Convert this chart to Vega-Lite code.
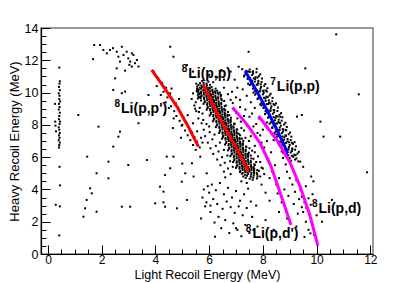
{
"$schema": "https://vega.github.io/schema/vega-lite/v6.json",
"width": 332, "height": 226,
"autosize": {"type": "none"},
"padding": {"left": 41, "top": 28, "right": 42, "bottom": 29},
"background": "white",
"config": {"view": {"stroke": "#7a7a7a", "strokeWidth": 1.5}, "font": "Liberation Sans"},
"datasets": {
"pts": [
{"x":7.36,"y":4.72},{"x":7.51,"y":4.66},{"x":7.64,"y":4.73},{"x":7.78,"y":4.68},
{"x":7.27,"y":4.80},{"x":7.41,"y":4.85},{"x":7.55,"y":4.79},{"x":7.66,"y":4.86},{"x":7.80,"y":4.81},
{"x":7.22,"y":4.97},{"x":7.33,"y":4.91},{"x":7.45,"y":4.96},{"x":7.56,"y":4.92},{"x":7.67,"y":4.98},{"x":7.79,"y":4.93},
{"x":7.15,"y":5.08},{"x":7.25,"y":5.02},{"x":7.34,"y":5.09},{"x":7.42,"y":5.05},{"x":7.50,"y":5.10},{"x":7.58,"y":5.04},{"x":7.67,"y":5.07},{"x":7.77,"y":5.03},
{"x":7.16,"y":5.15},{"x":7.25,"y":5.20},{"x":7.34,"y":5.13},{"x":7.42,"y":5.22},{"x":7.50,"y":5.17},{"x":7.58,"y":5.21},{"x":7.67,"y":5.14},{"x":7.79,"y":5.20},
{"x":7.00,"y":5.34},{"x":7.13,"y":5.29},{"x":7.23,"y":5.32},{"x":7.32,"y":5.27},{"x":7.40,"y":5.31},{"x":7.48,"y":5.26},{"x":7.57,"y":5.33},{"x":7.66,"y":5.30},
{"x":7.03,"y":5.44},{"x":7.13,"y":5.38},{"x":7.22,"y":5.45},{"x":7.30,"y":5.41},{"x":7.38,"y":5.46},{"x":7.46,"y":5.40},{"x":7.55,"y":5.43},{"x":7.65,"y":5.39},
{"x":7.05,"y":5.51},{"x":7.14,"y":5.56},{"x":7.23,"y":5.49},{"x":7.31,"y":5.58},{"x":7.39,"y":5.53},{"x":7.47,"y":5.57},{"x":7.56,"y":5.50},{"x":7.68,"y":5.56},
{"x":6.89,"y":5.70},{"x":7.02,"y":5.65},{"x":7.12,"y":5.68},{"x":7.21,"y":5.63},{"x":7.29,"y":5.67},{"x":7.37,"y":5.62},{"x":7.46,"y":5.69},{"x":7.55,"y":5.66},
{"x":6.93,"y":5.80},{"x":7.03,"y":5.74},{"x":7.12,"y":5.81},{"x":7.20,"y":5.77},{"x":7.28,"y":5.82},{"x":7.36,"y":5.76},{"x":7.45,"y":5.79},{"x":7.55,"y":5.75},
{"x":6.94,"y":5.87},{"x":7.03,"y":5.92},{"x":7.12,"y":5.85},{"x":7.20,"y":5.94},{"x":7.28,"y":5.89},{"x":7.36,"y":5.93},{"x":7.45,"y":5.86},{"x":7.57,"y":5.92},
{"x":6.79,"y":6.06},{"x":6.92,"y":6.01},{"x":7.02,"y":6.04},{"x":7.11,"y":5.99},{"x":7.19,"y":6.03},{"x":7.27,"y":5.98},{"x":7.36,"y":6.05},{"x":7.45,"y":6.02},
{"x":6.83,"y":6.16},{"x":6.93,"y":6.10},{"x":7.02,"y":6.17},{"x":7.10,"y":6.13},{"x":7.18,"y":6.18},{"x":7.26,"y":6.12},{"x":7.35,"y":6.15},{"x":7.45,"y":6.11},
{"x":6.85,"y":6.23},{"x":6.94,"y":6.28},{"x":7.03,"y":6.21},{"x":7.11,"y":6.30},{"x":7.19,"y":6.25},{"x":7.27,"y":6.29},{"x":7.36,"y":6.22},{"x":7.48,"y":6.28},
{"x":6.70,"y":6.42},{"x":6.83,"y":6.37},{"x":6.93,"y":6.40},{"x":7.02,"y":6.35},{"x":7.10,"y":6.39},{"x":7.18,"y":6.34},{"x":7.27,"y":6.41},{"x":7.36,"y":6.38},
{"x":6.74,"y":6.52},{"x":6.84,"y":6.46},{"x":6.93,"y":6.53},{"x":7.01,"y":6.49},{"x":7.09,"y":6.54},{"x":7.17,"y":6.48},{"x":7.26,"y":6.51},{"x":7.36,"y":6.47},
{"x":6.75,"y":6.59},{"x":6.84,"y":6.64},{"x":6.93,"y":6.57},{"x":7.01,"y":6.66},{"x":7.09,"y":6.61},{"x":7.17,"y":6.65},{"x":7.26,"y":6.58},{"x":7.38,"y":6.64},
{"x":6.59,"y":6.78},{"x":6.72,"y":6.73},{"x":6.82,"y":6.76},{"x":6.91,"y":6.71},{"x":6.99,"y":6.75},{"x":7.07,"y":6.70},{"x":7.16,"y":6.77},{"x":7.25,"y":6.74},
{"x":6.63,"y":6.88},{"x":6.73,"y":6.82},{"x":6.82,"y":6.89},{"x":6.90,"y":6.85},{"x":6.98,"y":6.90},{"x":7.06,"y":6.84},{"x":7.15,"y":6.87},{"x":7.25,"y":6.83},
{"x":6.64,"y":6.95},{"x":6.73,"y":7.00},{"x":6.82,"y":6.93},{"x":6.90,"y":7.02},{"x":6.98,"y":6.97},{"x":7.06,"y":7.01},{"x":7.15,"y":6.94},{"x":7.27,"y":7.00},
{"x":6.48,"y":7.14},{"x":6.61,"y":7.09},{"x":6.71,"y":7.12},{"x":6.80,"y":7.07},{"x":6.88,"y":7.11},{"x":6.96,"y":7.06},{"x":7.05,"y":7.13},{"x":7.14,"y":7.10},
{"x":6.51,"y":7.24},{"x":6.61,"y":7.18},{"x":6.70,"y":7.25},{"x":6.78,"y":7.21},{"x":6.86,"y":7.26},{"x":6.94,"y":7.20},{"x":7.03,"y":7.23},{"x":7.13,"y":7.19},
{"x":6.52,"y":7.31},{"x":6.61,"y":7.36},{"x":6.70,"y":7.29},{"x":6.78,"y":7.38},{"x":6.86,"y":7.33},{"x":6.94,"y":7.37},{"x":7.03,"y":7.30},{"x":7.15,"y":7.36},
{"x":6.37,"y":7.50},{"x":6.50,"y":7.45},{"x":6.60,"y":7.48},{"x":6.69,"y":7.43},{"x":6.77,"y":7.47},{"x":6.85,"y":7.42},{"x":6.94,"y":7.49},{"x":7.03,"y":7.46},
{"x":6.40,"y":7.60},{"x":6.50,"y":7.54},{"x":6.59,"y":7.61},{"x":6.67,"y":7.57},{"x":6.75,"y":7.62},{"x":6.83,"y":7.56},{"x":6.92,"y":7.59},{"x":7.02,"y":7.55},
{"x":6.41,"y":7.67},{"x":6.50,"y":7.72},{"x":6.59,"y":7.65},{"x":6.67,"y":7.74},{"x":6.75,"y":7.69},{"x":6.83,"y":7.73},{"x":6.92,"y":7.66},{"x":7.04,"y":7.72},
{"x":6.25,"y":7.86},{"x":6.38,"y":7.81},{"x":6.48,"y":7.84},{"x":6.57,"y":7.79},{"x":6.65,"y":7.83},{"x":6.73,"y":7.78},{"x":6.82,"y":7.85},{"x":6.91,"y":7.82},
{"x":6.28,"y":7.96},{"x":6.38,"y":7.90},{"x":6.47,"y":7.97},{"x":6.55,"y":7.93},{"x":6.63,"y":7.98},{"x":6.71,"y":7.92},{"x":6.80,"y":7.95},{"x":6.90,"y":7.91},
{"x":6.30,"y":8.03},{"x":6.39,"y":8.08},{"x":6.48,"y":8.01},{"x":6.56,"y":8.10},{"x":6.64,"y":8.05},{"x":6.72,"y":8.09},{"x":6.81,"y":8.02},{"x":6.93,"y":8.08},
{"x":6.14,"y":8.22},{"x":6.27,"y":8.17},{"x":6.37,"y":8.20},{"x":6.46,"y":8.15},{"x":6.54,"y":8.19},{"x":6.62,"y":8.14},{"x":6.71,"y":8.21},{"x":6.80,"y":8.18},
{"x":6.17,"y":8.32},{"x":6.27,"y":8.26},{"x":6.36,"y":8.33},{"x":6.44,"y":8.29},{"x":6.52,"y":8.34},{"x":6.60,"y":8.28},{"x":6.69,"y":8.31},{"x":6.79,"y":8.27},
{"x":6.18,"y":8.39},{"x":6.27,"y":8.44},{"x":6.36,"y":8.37},{"x":6.44,"y":8.46},{"x":6.52,"y":8.41},{"x":6.60,"y":8.45},{"x":6.69,"y":8.38},{"x":6.81,"y":8.44},
{"x":6.02,"y":8.58},{"x":6.15,"y":8.53},{"x":6.25,"y":8.56},{"x":6.34,"y":8.51},{"x":6.42,"y":8.55},{"x":6.50,"y":8.50},{"x":6.59,"y":8.57},{"x":6.68,"y":8.54},
{"x":6.06,"y":8.68},{"x":6.16,"y":8.62},{"x":6.25,"y":8.69},{"x":6.33,"y":8.65},{"x":6.41,"y":8.70},{"x":6.49,"y":8.64},{"x":6.58,"y":8.67},{"x":6.68,"y":8.63},
{"x":6.07,"y":8.75},{"x":6.16,"y":8.80},{"x":6.25,"y":8.73},{"x":6.33,"y":8.82},{"x":6.41,"y":8.77},{"x":6.49,"y":8.81},{"x":6.58,"y":8.74},{"x":6.70,"y":8.80},
{"x":5.91,"y":8.94},{"x":6.04,"y":8.89},{"x":6.14,"y":8.92},{"x":6.23,"y":8.87},{"x":6.31,"y":8.91},{"x":6.39,"y":8.86},{"x":6.48,"y":8.93},{"x":6.57,"y":8.90},
{"x":5.94,"y":9.04},{"x":6.04,"y":8.98},{"x":6.13,"y":9.05},{"x":6.21,"y":9.01},{"x":6.29,"y":9.06},{"x":6.37,"y":9.00},{"x":6.46,"y":9.03},{"x":6.56,"y":8.99},
{"x":5.95,"y":9.11},{"x":6.04,"y":9.16},{"x":6.13,"y":9.09},{"x":6.21,"y":9.18},{"x":6.29,"y":9.13},{"x":6.37,"y":9.17},{"x":6.46,"y":9.10},{"x":6.58,"y":9.16},
{"x":5.79,"y":9.30},{"x":5.92,"y":9.25},{"x":6.02,"y":9.28},{"x":6.11,"y":9.23},{"x":6.19,"y":9.27},{"x":6.27,"y":9.22},{"x":6.36,"y":9.29},{"x":6.45,"y":9.26},
{"x":5.83,"y":9.40},{"x":5.93,"y":9.34},{"x":6.02,"y":9.41},{"x":6.10,"y":9.37},{"x":6.18,"y":9.42},{"x":6.26,"y":9.36},{"x":6.35,"y":9.39},{"x":6.45,"y":9.35},
{"x":5.84,"y":9.47},{"x":5.93,"y":9.52},{"x":6.02,"y":9.45},{"x":6.10,"y":9.54},{"x":6.18,"y":9.49},{"x":6.26,"y":9.53},{"x":6.35,"y":9.46},{"x":6.47,"y":9.52},{"x":5.70,"y":9.51},{"x":6.56,"y":9.48},
{"x":5.68,"y":9.66},{"x":5.81,"y":9.61},{"x":5.91,"y":9.64},{"x":6.00,"y":9.59},{"x":6.08,"y":9.63},{"x":6.16,"y":9.58},{"x":6.25,"y":9.65},{"x":6.34,"y":9.62},{"x":6.45,"y":9.60},{"x":5.58,"y":9.63},
{"x":5.71,"y":9.76},{"x":5.81,"y":9.70},{"x":5.90,"y":9.77},{"x":5.98,"y":9.73},{"x":6.06,"y":9.78},{"x":6.14,"y":9.72},{"x":6.23,"y":9.75},{"x":6.33,"y":9.71},{"x":5.60,"y":9.73},{"x":6.43,"y":9.75},{"x":5.66,"y":9.71},
{"x":5.72,"y":9.83},{"x":5.81,"y":9.88},{"x":5.90,"y":9.81},{"x":5.98,"y":9.90},{"x":6.06,"y":9.85},{"x":6.14,"y":9.89},{"x":6.23,"y":9.82},{"x":6.35,"y":9.88},{"x":5.58,"y":9.86},{"x":5.64,"y":9.89},{"x":6.44,"y":9.85},
{"x":5.57,"y":10.02},{"x":5.70,"y":9.97},{"x":5.80,"y":10.00},{"x":5.89,"y":9.95},{"x":5.97,"y":9.99},{"x":6.05,"y":9.94},{"x":6.14,"y":10.01},{"x":6.23,"y":9.98},{"x":6.32,"y":9.97},{"x":6.40,"y":10.00},{"x":5.63,"y":9.96},
{"x":5.60,"y":10.12},{"x":5.70,"y":10.06},{"x":5.79,"y":10.13},{"x":5.87,"y":10.09},{"x":5.95,"y":10.14},{"x":6.03,"y":10.08},{"x":6.12,"y":10.11},{"x":6.22,"y":10.07},{"x":5.54,"y":10.10},{"x":6.30,"y":10.11},
{"x":5.61,"y":10.19},{"x":5.70,"y":10.24},{"x":5.79,"y":10.17},{"x":5.87,"y":10.26},{"x":5.95,"y":10.21},{"x":6.03,"y":10.25},{"x":6.12,"y":10.18},{"x":6.24,"y":10.24},{"x":5.55,"y":10.22},
{"x":5.55,"y":10.36},{"x":5.65,"y":10.31},{"x":5.74,"y":10.34},{"x":5.83,"y":10.29},{"x":5.91,"y":10.33},{"x":6.00,"y":10.30},{"x":6.09,"y":10.35},
{"x":5.60,"y":10.47},{"x":5.71,"y":10.44},{"x":5.80,"y":10.49},{"x":5.92,"y":10.45},{"x":6.03,"y":10.48},
{"x":5.66,"y":10.58},{"x":5.79,"y":10.61},{"x":5.90,"y":10.56},
{"x":5.74,"y":10.72},{"x":5.97,"y":10.68},{"x":6.15,"y":10.64},{"x":5.52,"y":10.55},
{"x":5.40,"y":9.95},{"x":5.35,"y":9.60},{"x":5.45,"y":9.20},{"x":5.52,"y":8.85},{"x":5.60,"y":8.40},{"x":5.72,"y":8.10},{"x":5.80,"y":7.70},{"x":5.85,"y":7.30},{"x":5.95,"y":6.90},{"x":6.05,"y":6.55},{"x":6.15,"y":6.20},{"x":6.30,"y":5.85},{"x":6.42,"y":5.50},{"x":6.55,"y":5.10},{"x":6.60,"y":4.75},{"x":5.65,"y":9.05},{"x":5.75,"y":8.70},{"x":5.90,"y":8.05},{"x":6.02,"y":7.55},{"x":6.12,"y":7.10},{"x":6.25,"y":6.70},{"x":6.35,"y":6.35},{"x":6.48,"y":6.00},{"x":6.58,"y":5.65},{"x":6.70,"y":5.30},{"x":6.80,"y":4.95},{"x":5.50,"y":9.40},{"x":5.78,"y":8.30},{"x":6.00,"y":7.90},{"x":6.20,"y":7.40},{"x":6.40,"y":6.90},{"x":6.55,"y":6.45},{"x":6.68,"y":6.10},{"x":6.78,"y":5.75},{"x":6.88,"y":5.40},
{"x":6.55,"y":10.30},{"x":6.70,"y":9.90},{"x":6.80,"y":9.55},{"x":6.62,"y":9.20},{"x":6.90,"y":9.00},{"x":6.75,"y":8.60},{"x":7.05,"y":8.40},{"x":6.95,"y":8.05},{"x":7.20,"y":7.80},{"x":7.10,"y":7.45},{"x":7.35,"y":7.20},{"x":7.25,"y":6.85},{"x":7.50,"y":6.55},{"x":7.45,"y":6.20},{"x":7.65,"y":5.90},{"x":7.70,"y":5.50},{"x":7.85,"y":5.15},{"x":7.90,"y":4.80},{"x":6.85,"y":10.05},{"x":7.00,"y":9.70},{"x":6.88,"y":9.35},{"x":7.15,"y":9.10},{"x":7.00,"y":8.75},{"x":7.30,"y":8.55},{"x":7.18,"y":8.20},{"x":7.42,"y":7.95},{"x":7.30,"y":7.65},{"x":7.55,"y":7.30},{"x":7.48,"y":7.00},{"x":7.70,"y":6.70},{"x":7.60,"y":6.40},{"x":7.82,"y":6.05},{"x":7.75,"y":5.70},{"x":7.95,"y":5.35},{"x":8.05,"y":4.95},{"x":6.60,"y":8.90},{"x":6.80,"y":8.30},{"x":7.02,"y":7.70},{"x":7.22,"y":7.15},{"x":7.38,"y":6.65},{"x":7.55,"y":6.10},{"x":7.68,"y":5.25},{"x":7.62,"y":4.60},{"x":7.40,"y":4.40},{"x":7.20,"y":4.50},
{"x":6.10,"y":4.30},{"x":6.25,"y":3.95},{"x":6.40,"y":4.40},{"x":6.55,"y":3.70},{"x":6.70,"y":4.10},{"x":6.85,"y":3.50},{"x":7.00,"y":3.90},{"x":7.15,"y":3.30},{"x":7.30,"y":3.70},{"x":7.45,"y":4.05},{"x":6.15,"y":3.40},{"x":6.30,"y":3.10},{"x":6.50,"y":2.80},{"x":6.65,"y":3.25},{"x":6.80,"y":2.90},{"x":6.95,"y":2.55},{"x":7.10,"y":2.95},{"x":7.25,"y":2.40},{"x":7.40,"y":2.85},{"x":7.55,"y":3.25},{"x":6.05,"y":2.60},{"x":6.35,"y":2.30},{"x":6.60,"y":2.10},{"x":6.90,"y":1.90},{"x":7.05,"y":1.50},{"x":7.35,"y":1.80},{"x":6.45,"y":1.60},{"x":6.75,"y":1.30},{"x":7.20,"y":1.10},{"x":6.20,"y":1.95},{"x":7.60,"y":2.30},{"x":7.75,"y":3.00},{"x":6.00,"y":3.80},{"x":5.90,"y":3.20},{"x":5.95,"y":4.20},{"x":5.85,"y":2.95},{"x":6.05,"y":3.00},{"x":5.80,"y":4.00},{"x":5.75,"y":3.50},{"x":5.70,"y":2.20},{"x":7.80,"y":1.70},{"x":7.50,"y":1.30},
{"x":7.40,"y":9.80},{"x":7.55,"y":9.40},{"x":7.70,"y":9.05},{"x":7.60,"y":8.70},{"x":7.85,"y":8.40},{"x":7.75,"y":8.05},{"x":8.00,"y":7.70},{"x":7.90,"y":7.35},{"x":8.15,"y":7.00},{"x":8.05,"y":6.60},{"x":8.30,"y":6.30},{"x":8.20,"y":5.90},{"x":8.45,"y":5.50},{"x":8.35,"y":5.10},{"x":8.60,"y":4.70},{"x":8.50,"y":4.30},{"x":7.25,"y":10.20},{"x":7.45,"y":10.55},{"x":7.65,"y":10.00},{"x":7.80,"y":9.60},{"x":7.95,"y":9.20},{"x":8.10,"y":8.85},{"x":8.25,"y":8.50},{"x":8.15,"y":8.15},{"x":8.35,"y":7.80},{"x":8.50,"y":7.40},{"x":8.40,"y":7.05},{"x":8.60,"y":6.75},{"x":8.70,"y":6.35},{"x":8.75,"y":5.95},{"x":8.85,"y":5.55},{"x":8.90,"y":5.10},{"x":9.00,"y":4.70},{"x":9.10,"y":4.30},{"x":8.80,"y":4.00},{"x":8.95,"y":3.60},{"x":9.20,"y":3.85},{"x":9.35,"y":3.40},{"x":9.15,"y":3.10},{"x":9.45,"y":2.90},{"x":9.30,"y":2.50},{"x":8.70,"y":3.20},{"x":8.55,"y":3.75},{"x":7.95,"y":4.30},{"x":8.10,"y":3.80},{"x":8.25,"y":3.30},{"x":7.90,"y":5.70},{"x":7.70,"y":6.30},{"x":7.95,"y":6.90},{"x":8.00,"y":5.30},{"x":8.25,"y":4.70},{"x":7.35,"y":8.95},{"x":7.50,"y":8.50},{"x":7.65,"y":7.90},{"x":7.80,"y":7.50},{"x":7.15,"y":9.55},{"x":7.05,"y":10.30},{"x":6.95,"y":10.80},{"x":7.30,"y":11.00},{"x":7.60,"y":10.70},{"x":6.55,"y":10.80},{"x":6.30,"y":10.95},{"x":6.00,"y":11.10},{"x":6.80,"y":11.30},{"x":7.10,"y":11.60},{"x":6.45,"y":11.40},
{"x":9.45,"y":3.55},{"x":9.55,"y":3.20},{"x":9.62,"y":2.85},{"x":9.70,"y":3.45},{"x":9.50,"y":2.60},{"x":9.78,"y":3.05},{"x":9.40,"y":3.95},{"x":9.60,"y":4.20},{"x":9.85,"y":3.70},{"x":9.25,"y":4.55},
{"x":7.23,"y":11.45},{"x":7.38,"y":11.34},{"x":7.51,"y":11.43},{"x":7.63,"y":11.32},{"x":7.77,"y":11.47},
{"x":7.36,"y":11.16},{"x":7.51,"y":11.28},{"x":7.64,"y":11.18},{"x":7.76,"y":11.26},{"x":7.90,"y":11.13},
{"x":7.31,"y":11.07},{"x":7.46,"y":10.97},{"x":7.60,"y":11.09},{"x":7.73,"y":10.95},{"x":7.85,"y":11.02},
{"x":7.43,"y":10.85},{"x":7.58,"y":10.74},{"x":7.71,"y":10.83},{"x":7.83,"y":10.72},{"x":7.97,"y":10.87},
{"x":7.55,"y":10.56},{"x":7.70,"y":10.68},{"x":7.83,"y":10.58},{"x":7.95,"y":10.66},{"x":8.09,"y":10.53},
{"x":7.51,"y":10.47},{"x":7.66,"y":10.37},{"x":7.80,"y":10.49},{"x":7.93,"y":10.35},{"x":8.05,"y":10.42},
{"x":7.63,"y":10.25},{"x":7.78,"y":10.14},{"x":7.91,"y":10.23},{"x":8.03,"y":10.12},{"x":8.17,"y":10.27},
{"x":7.75,"y":9.96},{"x":7.90,"y":10.08},{"x":8.03,"y":9.98},{"x":8.15,"y":10.06},{"x":8.29,"y":9.93},
{"x":7.71,"y":9.87},{"x":7.86,"y":9.77},{"x":8.00,"y":9.89},{"x":8.13,"y":9.75},{"x":8.25,"y":9.82},
{"x":7.82,"y":9.65},{"x":7.97,"y":9.54},{"x":8.10,"y":9.63},{"x":8.22,"y":9.52},{"x":8.36,"y":9.67},
{"x":7.95,"y":9.36},{"x":8.10,"y":9.48},{"x":8.23,"y":9.38},{"x":8.35,"y":9.46},{"x":8.49,"y":9.33},
{"x":7.90,"y":9.27},{"x":8.05,"y":9.17},{"x":8.19,"y":9.29},{"x":8.32,"y":9.15},{"x":8.44,"y":9.22},
{"x":8.02,"y":9.05},{"x":8.17,"y":8.94},{"x":8.30,"y":9.03},{"x":8.42,"y":8.92},{"x":8.56,"y":9.07},
{"x":8.14,"y":8.76},{"x":8.29,"y":8.88},{"x":8.42,"y":8.78},{"x":8.54,"y":8.86},{"x":8.68,"y":8.73},
{"x":8.08,"y":8.67},{"x":8.23,"y":8.57},{"x":8.37,"y":8.69},{"x":8.50,"y":8.55},{"x":8.62,"y":8.62},
{"x":8.19,"y":8.45},{"x":8.34,"y":8.34},{"x":8.47,"y":8.43},{"x":8.59,"y":8.32},{"x":8.73,"y":8.47},
{"x":8.30,"y":8.16},{"x":8.45,"y":8.28},{"x":8.58,"y":8.18},{"x":8.70,"y":8.26},{"x":8.84,"y":8.13},
{"x":8.25,"y":8.07},{"x":8.40,"y":7.97},{"x":8.54,"y":8.09},{"x":8.67,"y":7.95},{"x":8.79,"y":8.02},
{"x":8.35,"y":7.85},{"x":8.50,"y":7.74},{"x":8.63,"y":7.83},{"x":8.75,"y":7.72},{"x":8.89,"y":7.87},
{"x":8.47,"y":7.56},{"x":8.62,"y":7.68},{"x":8.75,"y":7.58},{"x":8.87,"y":7.66},{"x":9.01,"y":7.53},
{"x":8.42,"y":7.47},{"x":8.57,"y":7.37},{"x":8.71,"y":7.49},{"x":8.84,"y":7.35},{"x":8.96,"y":7.42},
{"x":8.52,"y":7.25},{"x":8.67,"y":7.14},{"x":8.80,"y":7.23},{"x":8.92,"y":7.12},{"x":9.06,"y":7.27},
{"x":8.64,"y":6.96},{"x":8.79,"y":7.08},{"x":8.92,"y":6.98},{"x":9.04,"y":7.06},{"x":9.18,"y":6.93},
{"x":8.58,"y":6.87},{"x":8.73,"y":6.77},{"x":8.87,"y":6.89},{"x":9.00,"y":6.75},{"x":9.12,"y":6.82},
{"x":8.69,"y":6.65},{"x":8.84,"y":6.54},{"x":8.97,"y":6.63},{"x":9.09,"y":6.52},{"x":9.23,"y":6.67},
{"x":8.80,"y":6.36},{"x":8.95,"y":6.48},{"x":9.08,"y":6.38},{"x":9.20,"y":6.46},{"x":9.34,"y":6.33},
{"x":8.75,"y":6.27},{"x":8.90,"y":6.17},{"x":9.04,"y":6.29},{"x":9.17,"y":6.15},{"x":9.29,"y":6.22},
{"x":8.85,"y":6.05},{"x":9.00,"y":5.94},{"x":9.13,"y":6.03},{"x":9.25,"y":5.92},
{"x":9.05,"y":5.78},{"x":9.20,"y":5.85},{"x":9.32,"y":5.74},
{"x":7.45,"y":11.31},{"x":7.62,"y":11.27},{"x":7.52,"y":10.91},{"x":7.66,"y":10.88},{"x":7.80,"y":10.93},{"x":7.62,"y":10.52},{"x":7.77,"y":10.48},{"x":7.92,"y":10.51},{"x":7.70,"y":10.11},{"x":7.86,"y":10.07},{"x":8.01,"y":10.10},{"x":8.12,"y":10.13},{"x":7.88,"y":9.71},{"x":8.04,"y":9.68},{"x":8.18,"y":9.72},{"x":7.98,"y":9.31},{"x":8.14,"y":9.28},{"x":8.28,"y":9.32},{"x":8.40,"y":9.29},{"x":8.12,"y":8.91},{"x":8.26,"y":8.88},{"x":8.40,"y":8.92},{"x":8.26,"y":8.51},{"x":8.40,"y":8.48},{"x":8.55,"y":8.52},{"x":8.65,"y":8.49},{"x":8.37,"y":8.11},{"x":8.50,"y":8.08},{"x":8.64,"y":8.12},{"x":8.48,"y":7.71},{"x":8.61,"y":7.68},{"x":8.74,"y":7.72},{"x":8.84,"y":7.69},{"x":8.60,"y":7.31},{"x":8.73,"y":7.28},{"x":8.86,"y":7.32},{"x":8.70,"y":6.91},{"x":8.84,"y":6.88},{"x":8.98,"y":6.92},{"x":9.08,"y":6.89},{"x":8.82,"y":6.51},{"x":8.95,"y":6.48},{"x":9.10,"y":6.52},{"x":8.95,"y":6.11},{"x":9.08,"y":6.08},{"x":9.22,"y":6.12},
{"x":0.42,"y":11.55},{"x":0.44,"y":10.70},{"x":0.43,"y":10.55},{"x":0.41,"y":10.35},{"x":0.44,"y":10.15},{"x":0.40,"y":9.95},{"x":0.43,"y":9.80},{"x":0.42,"y":9.60},{"x":0.45,"y":9.45},{"x":0.41,"y":9.30},{"x":0.43,"y":9.10},{"x":0.40,"y":8.95},{"x":0.44,"y":8.75},{"x":0.42,"y":8.55},{"x":0.41,"y":8.35},{"x":0.45,"y":8.20},{"x":0.43,"y":8.05},{"x":0.40,"y":7.85},{"x":0.42,"y":7.70},{"x":0.44,"y":7.50},{"x":0.41,"y":7.35},{"x":0.43,"y":7.20},{"x":0.40,"y":7.05},{"x":0.44,"y":6.90},{"x":0.42,"y":6.75},{"x":0.41,"y":6.60},{"x":0.43,"y":5.40},{"x":0.45,"y":4.25},{"x":0.44,"y":2.95},{"x":0.42,"y":1.15},{"x":0.28,"y":7.95},{"x":0.30,"y":7.60},{"x":0.27,"y":8.20},{"x":0.29,"y":3.05},{"x":0.26,"y":9.30},
{"x":2.56,"y":12.53},{"x":2.62,"y":12.22},{"x":2.68,"y":11.92},{"x":2.81,"y":12.33},{"x":2.93,"y":12.53},{"x":2.99,"y":12.12},{"x":3.06,"y":11.92},{"x":3.12,"y":11.61},{"x":3.18,"y":12.33},{"x":3.24,"y":11.82},{"x":3.31,"y":12.02},{"x":3.37,"y":11.61},{"x":2.56,"y":11.50},{"x":2.87,"y":11.36},{"x":2.50,"y":10.88},{"x":2.19,"y":12.43},{"x":2.31,"y":12.64},{"x":1.94,"y":12.95},{"x":1.72,"y":12.95},{"x":1.68,"y":12.07},{"x":2.06,"y":12.64},{"x":2.42,"y":12.75},{"x":2.75,"y":12.84},{"x":3.12,"y":12.43},{"x":3.03,"y":11.72},
{"x":1.13,"y":8.61},{"x":1.88,"y":7.89},{"x":1.44,"y":3.35},{"x":1.38,"y":2.83},{"x":1.32,"y":2.31},{"x":1.57,"y":4.07},{"x":1.81,"y":2.62},{"x":1.63,"y":3.76},{"x":1.46,"y":6.03},{"x":1.81,"y":5.00},{"x":2.25,"y":5.72},{"x":2.25,"y":4.69},{"x":2.43,"y":6.65},{"x":2.62,"y":7.27},{"x":2.68,"y":7.58},{"x":2.75,"y":9.96},{"x":2.87,"y":10.06},{"x":2.99,"y":5.51},{"x":2.75,"y":2.93},{"x":3.06,"y":2.93},{"x":2.43,"y":10.16},{"x":3.37,"y":8.10},{"x":3.68,"y":5.82},{"x":3.74,"y":9.85},{"x":3.99,"y":3.14},{"x":4.17,"y":4.17},{"x":4.30,"y":3.86},{"x":4.36,"y":4.89},{"x":4.36,"y":2.93},{"x":4.30,"y":3.20},{"x":4.42,"y":6.03},{"x":4.67,"y":6.03},{"x":4.80,"y":2.83},{"x":4.98,"y":4.48},{"x":5.11,"y":5.00},{"x":5.17,"y":3.35},{"x":4.55,"y":5.31},{"x":5.00,"y":5.60},{"x":5.36,"y":5.62},{"x":5.42,"y":4.80},{"x":5.67,"y":6.03},{"x":5.91,"y":5.00},{"x":4.55,"y":12.84},{"x":3.93,"y":11.30},{"x":4.24,"y":10.58},{"x":4.67,"y":12.22},{"x":5.17,"y":11.70},{"x":5.40,"y":11.30},
{"x":4.10,"y":10.90},{"x":4.25,"y":10.60},{"x":4.05,"y":10.40},{"x":4.40,"y":10.30},{"x":4.30,"y":10.05},{"x":4.55,"y":9.95},{"x":4.45,"y":9.70},{"x":4.62,"y":9.55},{"x":4.38,"y":9.40},{"x":4.75,"y":9.35},{"x":4.58,"y":9.15},{"x":4.85,"y":9.05},{"x":4.70,"y":8.85},{"x":4.95,"y":8.75},{"x":4.78,"y":8.55},{"x":5.05,"y":8.45},{"x":4.90,"y":8.25},{"x":5.15,"y":8.15},{"x":4.98,"y":7.95},{"x":5.25,"y":7.85},{"x":5.10,"y":7.65},{"x":5.35,"y":7.55},{"x":5.20,"y":7.35},{"x":5.45,"y":7.25},{"x":5.30,"y":7.05},{"x":5.55,"y":6.95},{"x":5.40,"y":6.75},{"x":5.65,"y":6.60},{"x":5.50,"y":6.45},{"x":4.20,"y":9.85},{"x":4.50,"y":9.05},{"x":4.68,"y":8.40},{"x":5.00,"y":8.00},{"x":5.40,"y":8.10},{"x":5.55,"y":7.60},{"x":5.70,"y":7.20},{"x":4.88,"y":9.60},{"x":4.60,"y":10.25},{"x":5.20,"y":8.60},{"x":5.62,"y":8.80},{"x":5.48,"y":9.00},{"x":5.75,"y":6.90},{"x":4.35,"y":8.70},{"x":4.65,"y":7.80},{"x":4.95,"y":7.20},
{"x":10.73,"y":13.61},{"x":11.57,"y":9.89},{"x":10.88,"y":7.27},{"x":11.88,"y":5.06},{"x":9.27,"y":8.51},{"x":9.45,"y":8.61},{"x":10.14,"y":8.20},{"x":10.26,"y":7.27},{"x":6.22,"y":1.07},{"x":7.47,"y":12.53},{"x":9.58,"y":11.50},{"x":9.39,"y":5.72},{"x":9.50,"y":5.40},{"x":9.80,"y":4.80},{"x":9.88,"y":4.50},{"x":9.77,"y":1.28},{"x":10.57,"y":3.35},{"x":10.20,"y":2.00},{"x":7.65,"y":1.49},{"x":7.00,"y":1.60},
{"x":9.60,"y":2.00},{"x":9.70,"y":1.50},{"x":9.90,"y":1.20},{"x":10.00,"y":2.40},{"x":9.55,"y":1.05},{"x":9.25,"y":1.70},{"x":8.90,"y":2.20},{"x":8.60,"y":2.60},{"x":8.40,"y":1.50},{"x":8.10,"y":2.10}
],
"curves": [
{"curve":"pp1","x":3.86,"y":11.40},{"curve":"pp1","x":4.35,"y":10.25},{"curve":"pp1","x":4.80,"y":9.13},{"curve":"pp1","x":5.22,"y":7.90},{"curve":"pp1","x":5.60,"y":6.65},
{"curve":"pp","x":5.79,"y":10.47},{"curve":"pp","x":6.29,"y":8.72},{"curve":"pp","x":6.78,"y":7.27},{"curve":"pp","x":7.15,"y":6.15},{"curve":"pp","x":7.47,"y":5.10},
{"curve":"li7","x":7.34,"y":11.34},{"curve":"li7","x":7.75,"y":10.15},{"curve":"li7","x":8.15,"y":8.92},{"curve":"li7","x":8.55,"y":7.62},{"curve":"li7","x":8.93,"y":6.24},
{"curve":"pd1","x":6.87,"y":9.07},{"curve":"pd1","x":7.40,"y":8.05},{"curve":"pd1","x":7.90,"y":6.86},{"curve":"pd1","x":8.30,"y":5.45},{"curve":"pd1","x":8.65,"y":3.76},{"curve":"pd1","x":9.05,"y":1.80},
{"curve":"pd","x":7.84,"y":8.55},{"curve":"pd","x":8.52,"y":7.06},{"curve":"pd","x":9.00,"y":5.70},{"curve":"pd","x":9.39,"y":4.17},{"curve":"pd","x":9.75,"y":2.40},{"curve":"pd","x":10.05,"y":0.50}
],
"labels": [
{"sup":"8","label":"Li(p,p')","x":2.72,"y":8.72},
{"sup":"8","label":"Li(p,p)","x":5.22,"y":10.89},
{"sup":"7","label":"Li(p,p)","x":8.52,"y":10.10},
{"sup":"8","label":"Li(p,d)","x":10.07,"y":2.51},
{"sup":"8","label":"Li(p,d')","x":7.61,"y":0.99}
]
},
"encoding": {
"x": {"field":"x","type":"quantitative","scale":{"domain":[-0.26,12.1],"nice":false,"zero":false},
 "axis":{"title":"Light Recoil Energy (MeV)","values":[0,0.5,1,1.5,2,2.5,3,3.5,4,4.5,5,5.5,6,6.5,7,7.5,8,8.5,9,9.5,10,10.5,11,11.5,12],
 "labelExpr":"datum.value % 2 === 0 ? format(datum.value, 'd') : ''","grid":false,"domainColor":"black","domainWidth":1.2,"tickColor":"black",
 "tickSize":{"condition":{"test":"datum.value % 2 === 0","value":-9},"value":-5},
 "labelFontSize":12,"labelColor":"black","labelPadding":9,"labelFlush":false,"titleFontSize":12.5,"titleFontWeight":"normal","titleColor":"black","titlePadding":3}},
"y": {"field":"y","type":"quantitative","scale":{"domain":[0,14],"nice":false,"zero":false},
 "axis":{"title":"Heavy Recoil Energy (MeV)","values":[0,0.5,1,1.5,2,2.5,3,3.5,4,4.5,5,5.5,6,6.5,7,7.5,8,8.5,9,9.5,10,10.5,11,11.5,12,12.5,13,13.5,14],
 "labelExpr":"datum.value % 2 === 0 ? format(datum.value, 'd') : ''","grid":false,"domainColor":"black","domainWidth":1.2,"tickColor":"black",
 "tickSize":{"condition":{"test":"datum.value % 2 === 0","value":-9},"value":-5},
 "labelFontSize":12.5,"labelColor":"black","labelPadding":12,"labelFlush":false,"titleFontSize":13,"titleFontWeight":"normal","titleColor":"black","titlePadding":3}}
},
"layer": [
{"data":{"name":"pts"},"mark":{"type":"square","size":4,"color":"black","opacity":1}},
{"data":{"name":"curves"},"mark":{"type":"line","strokeWidth":3},
 "encoding":{"color":{"field":"curve","type":"nominal","scale":{"domain":["pp1","pp","li7","pd1","pd"],"range":["#ff0000","#ff0000","#0000ff","#ff00ff","#ff00ff"]},"legend":null}}},
{"data":{"name":"labels"},"mark":{"type":"text","fontSize":14,"fontWeight":"bold","font":"Liberation Sans","color":"black","align":"left","baseline":"alphabetic"},
 "encoding":{"text":{"field":"label"}}},
{"data":{"name":"labels"},"mark":{"type":"text","fontSize":10,"fontWeight":"bold","font":"Liberation Sans","color":"black","align":"right","baseline":"alphabetic","dx":-1,"dy":-6},
 "encoding":{"text":{"field":"sup"}}}
]
}
